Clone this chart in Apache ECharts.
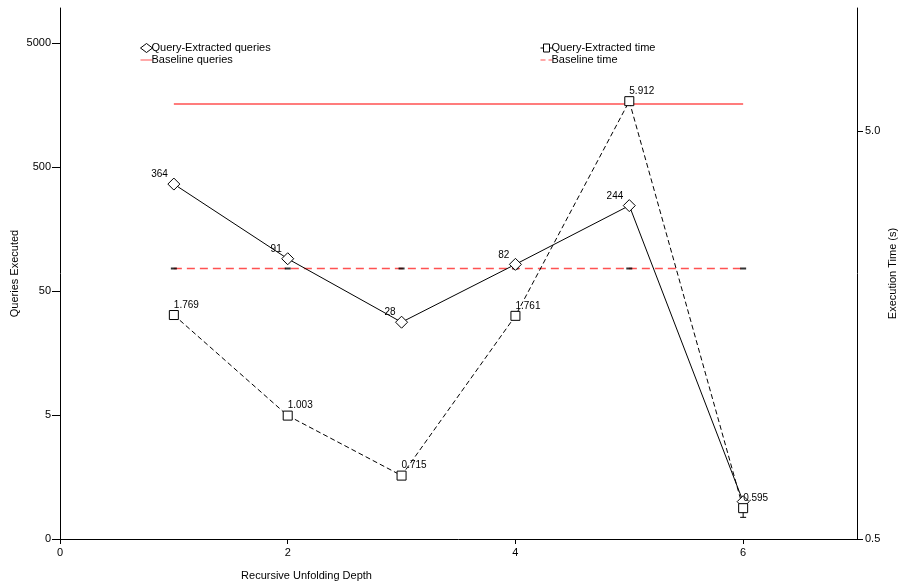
<!DOCTYPE html>
<html>
<head>
<meta charset="utf-8">
<script src="https://cdn.jsdelivr.net/npm/echarts@6/dist/echarts.min.js"></script>
<style>html,body{margin:0;padding:0;background:#fff}#c{width:902px;height:587px}</style>
</head>
<body>
<div id="c"></div>
<script>
// ---- data ----
const depths = [1, 2, 3, 4, 5, 6];
const extractedQueries = [364, 91, 28, 82, 244, 1];
const extractedQueryLabelShown = [true, true, true, true, true, false];
const extractedTime = [1.769, 1.003, 0.715, 1.761, 5.912, 0.595];
const extractedTimeErrLow = [null, null, null, null, null, 0.565];
const baselineQueries = [1610, 1610, 1610, 1610, 1610, 1610];
const baselineTime = [2.30, 2.30, 2.30, 2.30, 2.30, 2.30];
const leftTickValues = [0.5, 5, 50, 500, 5000];
const leftTickLabels = ['0', '5', '50', '500', '5000'];
const rightTickValues = [0.5, 5];
const rightTickLabels = ['0.5', '5.0'];
const xTickValues = [0, 2, 4, 6];

const L = v => Math.log10(v);
const pairs = (xs, ys) => xs.map((x, i) => [x, ys[i] == null ? null : L(ys[i])]);
const lookup = (vals, labels) => v => {
  let best = 0, d = Infinity;
  vals.forEach((t, i) => { const dd = Math.abs(L(t) - v); if (dd < d) { d = dd; best = i; } });
  return labels[best];
};

const font = 'Liberation Sans, Arial, sans-serif';
const red = '#ff5252';
const legendText = { fontSize: 11, color: '#000', fontFamily: font, padding: [0, 0, 0, -6], lineHeight: 12 };
const outlined = { color: '#fff', borderColor: '#000', borderWidth: 1 };

const chart = echarts.init(document.getElementById('c'));
chart.setOption({
  animation: false,
  backgroundColor: '#fff',
  textStyle: { fontFamily: font },
  grid: { left: 60, right: 45, top: 8, bottom: 48, containLabel: false, outerBoundsMode: 'none' },
  legend: [
    {
      orient: 'vertical', left: 135, top: 37, itemGap: 0, itemWidth: 12, itemHeight: 9,
      textStyle: legendText,
      data: [
        { name: 'Query-Extracted queries', icon: 'diamond', itemStyle: outlined },
        { name: 'Baseline queries', icon: 'path://M0,0 H12 V1 H0 Z', itemStyle: { color: red, borderWidth: 0 } }
      ]
    },
    {
      orient: 'vertical', left: 535, top: 37, itemGap: 0, itemWidth: 12, itemHeight: 9,
      textStyle: legendText,
      data: [
        { name: 'Query-Extracted time', icon: 'path://M0,4.5 H3 M3,0.5 H9 V8.5 H3 Z M9,4.5 H12', itemStyle: outlined },
        { name: 'Baseline time', icon: 'path://M0,0 H5 V1 H0 Z M8,0 H12 V1 H8 Z', itemStyle: { color: red, borderWidth: 0 } }
      ]
    }
  ],
  xAxis: {
    type: 'value', min: 0, max: 7,
    name: 'Recursive Unfolding Depth', nameLocation: 'middle', nameGap: 31, nameMoveOverlap: false,
    nameTextStyle: { fontSize: 11, color: '#000', fontFamily: font, padding: [0, 304, 0, 0] },
    axisLine: { onZero: false, lineStyle: { color: '#000', width: 1 } },
    axisTick: { show: true, inside: false, length: 5, lineStyle: { color: '#000' }, customValues: xTickValues },
    axisLabel: { fontSize: 11, color: '#000', margin: 8, customValues: xTickValues },
    splitLine: { show: false }
  },
  yAxis: [
    {
      type: 'value', min: L(0.5), max: 3.981, position: 'left',
      name: 'Queries Executed', nameLocation: 'middle', nameGap: 40, nameMoveOverlap: false,
      nameTextStyle: { fontSize: 11, color: '#000', fontFamily: font },
      axisLine: { show: true, onZero: false, lineStyle: { color: '#000', width: 1 } },
      axisTick: { show: true, inside: false, length: 8, lineStyle: { color: '#000' }, customValues: leftTickValues.map(L) },
      axisLabel: { fontSize: 11, color: '#000', margin: 9, customValues: leftTickValues.map(L), formatter: lookup(leftTickValues, leftTickLabels) },
      splitLine: { show: false }
    },
    {
      type: 'value', min: L(0.5), max: 1.0, position: 'right',
      name: 'Execution Time (s)', nameLocation: 'middle', nameGap: 30, nameMoveOverlap: false,
      nameTextStyle: { fontSize: 11, color: '#000', fontFamily: font },
      axisLine: { show: true, onZero: false, lineStyle: { color: '#000', width: 1 } },
      axisTick: { show: true, inside: false, length: 6, lineStyle: { color: '#000' }, customValues: rightTickValues.map(L) },
      axisLabel: { fontSize: 11, color: '#000', margin: 8, customValues: rightTickValues.map(L), formatter: lookup(rightTickValues, rightTickLabels) },
      splitLine: { show: false }
    }
  ],
  series: [
    {
      name: 'Baseline queries', type: 'line', yAxisIndex: 0,
      data: pairs(depths, baselineQueries), symbol: 'none',
      lineStyle: { color: red, width: 1.5 }, itemStyle: { color: red }, z: 2
    },
    {
      name: 'Baseline time', type: 'line', yAxisIndex: 1,
      data: pairs(depths, baselineTime), symbol: 'none',
      lineStyle: { color: red, width: 1.5, type: [8, 5] }, itemStyle: { color: red }, z: 2
    },
    {
      name: 'Baseline time caps', type: 'scatter', yAxisIndex: 1,
      data: pairs(depths, baselineTime), symbol: 'rect', symbolSize: [6, 2],
      itemStyle: { color: '#000' }, z: 3, silent: true
    },
    {
      name: 'Query-Extracted queries', type: 'line', yAxisIndex: 0,
      data: pairs(depths, extractedQueries),
      symbol: 'diamond', symbolSize: 12,
      lineStyle: { color: '#000', width: 1 },
      itemStyle: outlined,
      label: {
        show: true, position: 'top', distance: 1, align: 'right', offset: [-6, 3],
        fontSize: 10, color: '#000', fontFamily: font,
        formatter: p => extractedQueryLabelShown[p.dataIndex] ? String(extractedQueries[p.dataIndex]) : ''
      },
      z: 5
    },
    {
      name: 'Query-Extracted time', type: 'line', yAxisIndex: 1,
      data: pairs(depths, extractedTime),
      symbol: 'rect', symbolSize: 9,
      lineStyle: { color: '#000', width: 1, type: [5, 3] },
      itemStyle: outlined,
      label: {
        show: true, position: 'top', distance: 0, align: 'left', offset: [0, 0],
        fontSize: 10, color: '#000', fontFamily: font,
        formatter: p => extractedTime[p.dataIndex].toFixed(3)
      },
      z: 5
    },
    {
      name: 'Query-Extracted time error', type: 'custom', yAxisIndex: 1,
      data: depths.map((x, i) => [x, L(extractedTime[i]), extractedTimeErrLow[i] == null ? null : L(extractedTimeErrLow[i])])
        .filter(d => d[2] != null),
      renderItem: (params, api) => {
        const top = api.coord([api.value(0), api.value(1)]);
        const bot = api.coord([api.value(0), api.value(2)]);
        return {
          type: 'group',
          children: [
            { type: 'line', shape: { x1: top[0], y1: top[1], x2: bot[0], y2: bot[1] }, style: { stroke: '#000', lineWidth: 1 } },
            { type: 'line', shape: { x1: bot[0] - 3, y1: bot[1], x2: bot[0] + 3, y2: bot[1] }, style: { stroke: '#000', lineWidth: 1 } }
          ]
        };
      },
      z: 4, silent: true
    }
  ]
});
</script>
</body>
</html>
